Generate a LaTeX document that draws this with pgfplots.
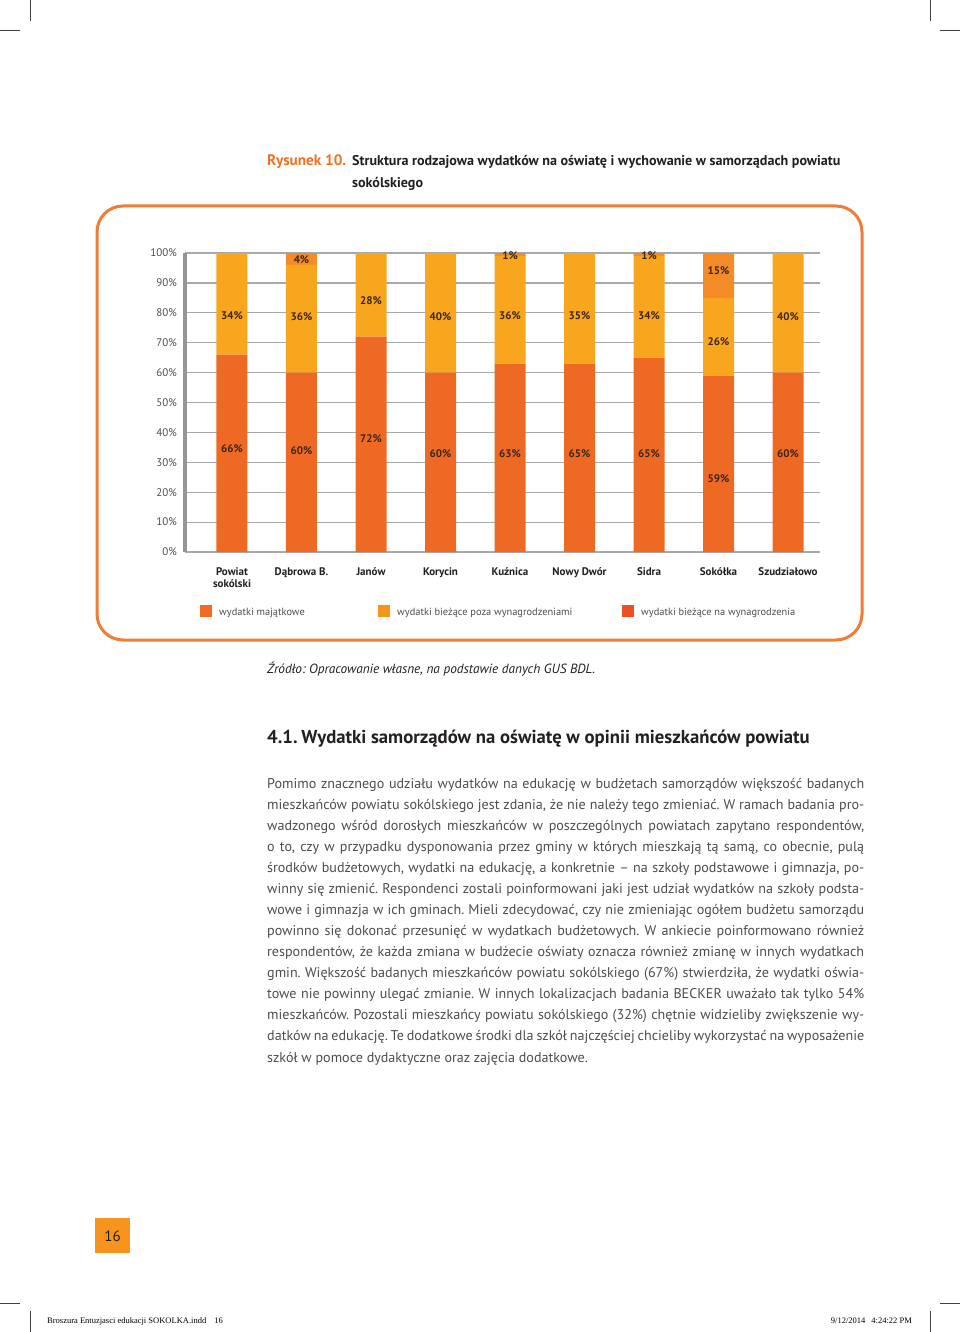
\documentclass[border=0pt]{standalone}
\usepackage{pgfplots}
\usepackage{pgfplotstable}
\pgfplotsset{compat=1.18}
\usepackage{fontspec}
\setmainfont{PT Sans}
\newfontfamily\footfont{Liberation Serif}
\frenchspacing

\definecolor{cBot}{RGB}{238,106,36}
\definecolor{cMid}{RGB}{248,166,30}
\definecolor{cTop}{RGB}{243,140,38}
\definecolor{cBox}{RGB}{239,125,55}
\definecolor{cGrid}{RGB}{167,169,172}
\definecolor{cAxis}{RGB}{147,149,152}
\definecolor{cText}{RGB}{77,77,79}
\definecolor{cDark}{RGB}{35,31,32}
\definecolor{cLab}{RGB}{60,38,25}
\definecolor{cRys}{RGB}{243,112,33}
\definecolor{cLegA}{RGB}{241,108,34}
\definecolor{cLegB}{RGB}{247,148,30}
\definecolor{cLegC}{RGB}{238,78,36}
\definecolor{cPage}{RGB}{247,148,30}

\pgfplotstableread{
x bot mid top
0 66 34 0
1 60 36 4
2 72 28 0
3 60 40 0
4 63 36 1
5 63 37 0
6 65 34 1
7 59 26 15
8 60 40 0
}\datatab

\pgfplotstableread{
x y lab
0 79 34
0 34.4 66
1 97.7 4
1 78.6 36
1 34 60
2 84 28
2 38 72
3 78.6 40
3 32.8 60
4 99 1
4 79 36
4 33 63
5 79 35
5 33 65
6 99 1
6 79 34
6 33 65
7 94 15
7 70.2 26
7 24.4 59
8 78.6 40
8 32.8 60
}\labtab

\newcommand{\jl}[2]{\node[anchor=base west, inner sep=0pt, text=cText] at (267,#1) {\fontsize{14.1}{16}\selectfont\spaceskip=0.25em plus 1em minus 0.08em\hbox to 597pt{#2}};}

\begin{document}
\begin{tikzpicture}
\begin{scope}[x=1pt,y=-1pt]
\path[use as bounding box] (0,0) rectangle (960,1332);
% crop marks
\draw[line width=0.8pt, black!75] (30,0)--(30,21) (0,30)--(20,30) (930,0)--(930,21) (940,30)--(960,30)
  (0,1303)--(20,1303) (940,1303)--(960,1303) (30,1311)--(30,1332) (930,1311)--(930,1332);
% title
\node[anchor=base west, inner sep=0pt] at (267,166) {\fontsize{15.2}{16}\selectfont\bfseries\textcolor{cRys}{Rysunek 10.}};
\node[anchor=base west, inner sep=0pt, text=cDark] at (352,166) {\fontsize{14.1}{16}\selectfont\bfseries Struktura rodzajowa wydatków na oświatę i wychowanie w samorządach powiatu};
\node[anchor=base west, inner sep=0pt, text=cDark] at (352,188) {\fontsize{14.1}{16}\selectfont\bfseries sokólskiego};
% box
\draw[line width=3pt, cBox, rounded corners=26pt] (97,206) rectangle (862,640);
% legend
\fill[cLegA] (200,605) rectangle (212,617);
\fill[cLegB] (378,605) rectangle (390,617);
\fill[cLegC] (622,605) rectangle (634,617);
\node[anchor=base west, inner sep=0pt, text=cText] at (219,615) {\fontsize{10.4}{12}\selectfont wydatki majątkowe};
\node[anchor=base west, inner sep=0pt, text=cText] at (397,615) {\fontsize{10.4}{12}\selectfont wydatki bieżące poza wynagrodzeniami};
\node[anchor=base west, inner sep=0pt, text=cText] at (641,615) {\fontsize{10.4}{12}\selectfont wydatki bieżące na wynagrodzenia};
% source
\node[anchor=base west, inner sep=0pt, text=cDark] at (267,673) {\fontsize{13.3}{16}\selectfont\itshape Źródło: Opracowanie własne, na podstawie danych GUS BDL.};
% heading
\node[anchor=base west, inner sep=0pt, text=cDark] at (267,743) {\fontsize{18.7}{20}\selectfont\bfseries 4.1.\hspace{-1pt} Wydatki samorządów na oświatę w opinii mieszkańców powiatu};
% paragraph
\jl{788}{Pomimo znacznego udziału wydatków na edukację w budżetach samorządów większość badanych}
\jl{809.1}{mieszkańców powiatu sokólskiego jest zdania, że nie należy tego zmieniać. W ramach badania pro-}
\jl{830.2}{wadzonego wśród dorosłych mieszkańców w poszczególnych powiatach zapytano respondentów,}
\jl{851.2}{o to, czy w przypadku dysponowania przez gminy w których mieszkają tą samą, co obecnie, pulą}
\jl{872.3}{środków budżetowych, wydatki na edukację, a konkretnie – na szkoły podstawowe i gimnazja, po-}
\jl{893.4}{winny się zmienić. Respondenci zostali poinformowani jaki jest udział wydatków na szkoły podsta-}
\jl{914.5}{wowe i gimnazja w ich gminach. Mieli zdecydować, czy nie zmieniając ogółem budżetu samorządu}
\jl{935.6}{powinno się dokonać przesunięć w wydatkach budżetowych. W ankiecie poinformowano również}
\jl{956.6}{respondentów, że każda zmiana w budżecie oświaty oznacza również zmianę w innych wydatkach}
\jl{977.7}{gmin. Większość badanych mieszkańców powiatu sokólskiego (67\%) stwierdziła, że wydatki oświa-}
\jl{998.8}{towe nie powinny ulegać zmianie. W innych lokalizacjach badania BECKER uważało tak tylko 54\%}
\jl{1019.9}{mieszkańców. Pozostali mieszkańcy powiatu sokólskiego (32\%) chętnie widzieliby zwiększenie wy-}
\jl{1040.9}{datków na edukację. Te dodatkowe środki dla szkół najczęściej chcieliby wykorzystać na wyposażenie}
\node[anchor=base west, inner sep=0pt, text=cText] at (267,1062) {\fontsize{14.1}{16}\selectfont szkół w pomoce dydaktyczne oraz zajęcia dodatkowe.};
% page number
\fill[cPage] (95,1218) rectangle (130,1253);
\node[text=cDark] at (112.5,1236) {\fontsize{15}{16}\selectfont 16};
% footer
\node[anchor=base west, inner sep=0pt] at (47,1323) {\footfont\fontsize{8.5}{9}\selectfont Broszura Entuzjasci edukacji SOKOLKA.indd\hspace{8pt}16};
\node[anchor=base east, inner sep=0pt] at (912,1323) {\footfont\fontsize{8.5}{9}\selectfont 9/12/2014\hspace{6pt}4:24:22 PM};
\end{scope}

\begin{axis}[
  at={(185pt,-552pt)}, anchor=south west,
  scale only axis, width=635pt, height=299pt,
  xmin=-0.676, xmax=8.46, ymin=0, ymax=100,
  ybar stacked, bar width=31pt,
  separate axis lines,
  axis x line=bottom, axis y line=left,
  axis line style={-},
  x axis line style={draw=none},
  y axis line style={draw=cAxis, line width=4pt},
  ymajorgrids, grid style={cGrid, line width=1.2pt},
  major tick length=0pt,
  xtick={0,...,8},
  xticklabels={{Powiat\\sokólski},{Dąbrowa B.},Janów,Korycin,Kuźnica,{Nowy Dwór},Sidra,Sokółka,Szudziałowo},
  xticklabel style={align=center, font=\fontsize{11}{12}\selectfont\bfseries, text=cDark, yshift=-12.5pt},
  ytick={0,10,...,100},
  yticklabels={0\%,10\%,20\%,30\%,40\%,50\%,60\%,70\%,80\%,90\%,100\%},
  yticklabel style={font=\fontsize{11}{12}\selectfont, text=cText, xshift=-4.5pt},
]
\addplot[fill=cBot, draw=none] table[x=x,y=bot]{\datatab};
\addplot[fill=cMid, draw=none] table[x=x,y=mid]{\datatab};
\addplot[fill=cTop, draw=none] table[x=x,y=top]{\datatab};
\end{axis}

\begin{axis}[
  at={(185pt,-552pt)}, anchor=south west,
  scale only axis, width=635pt, height=299pt,
  xmin=-0.676, xmax=8.46, ymin=0, ymax=100,
  hide axis, clip=false,
]
\addplot[draw=none, mark=none, point meta=explicit symbolic,
  nodes near coords={\pgfplotspointmeta\%},
  every node near coord/.append style={anchor=center, inner sep=0pt, font=\fontsize{11}{12}\selectfont\bfseries, text=cLab}]
  table[x=x,y=y,meta=lab]{\labtab};
\end{axis}
\end{tikzpicture}
\end{document}
